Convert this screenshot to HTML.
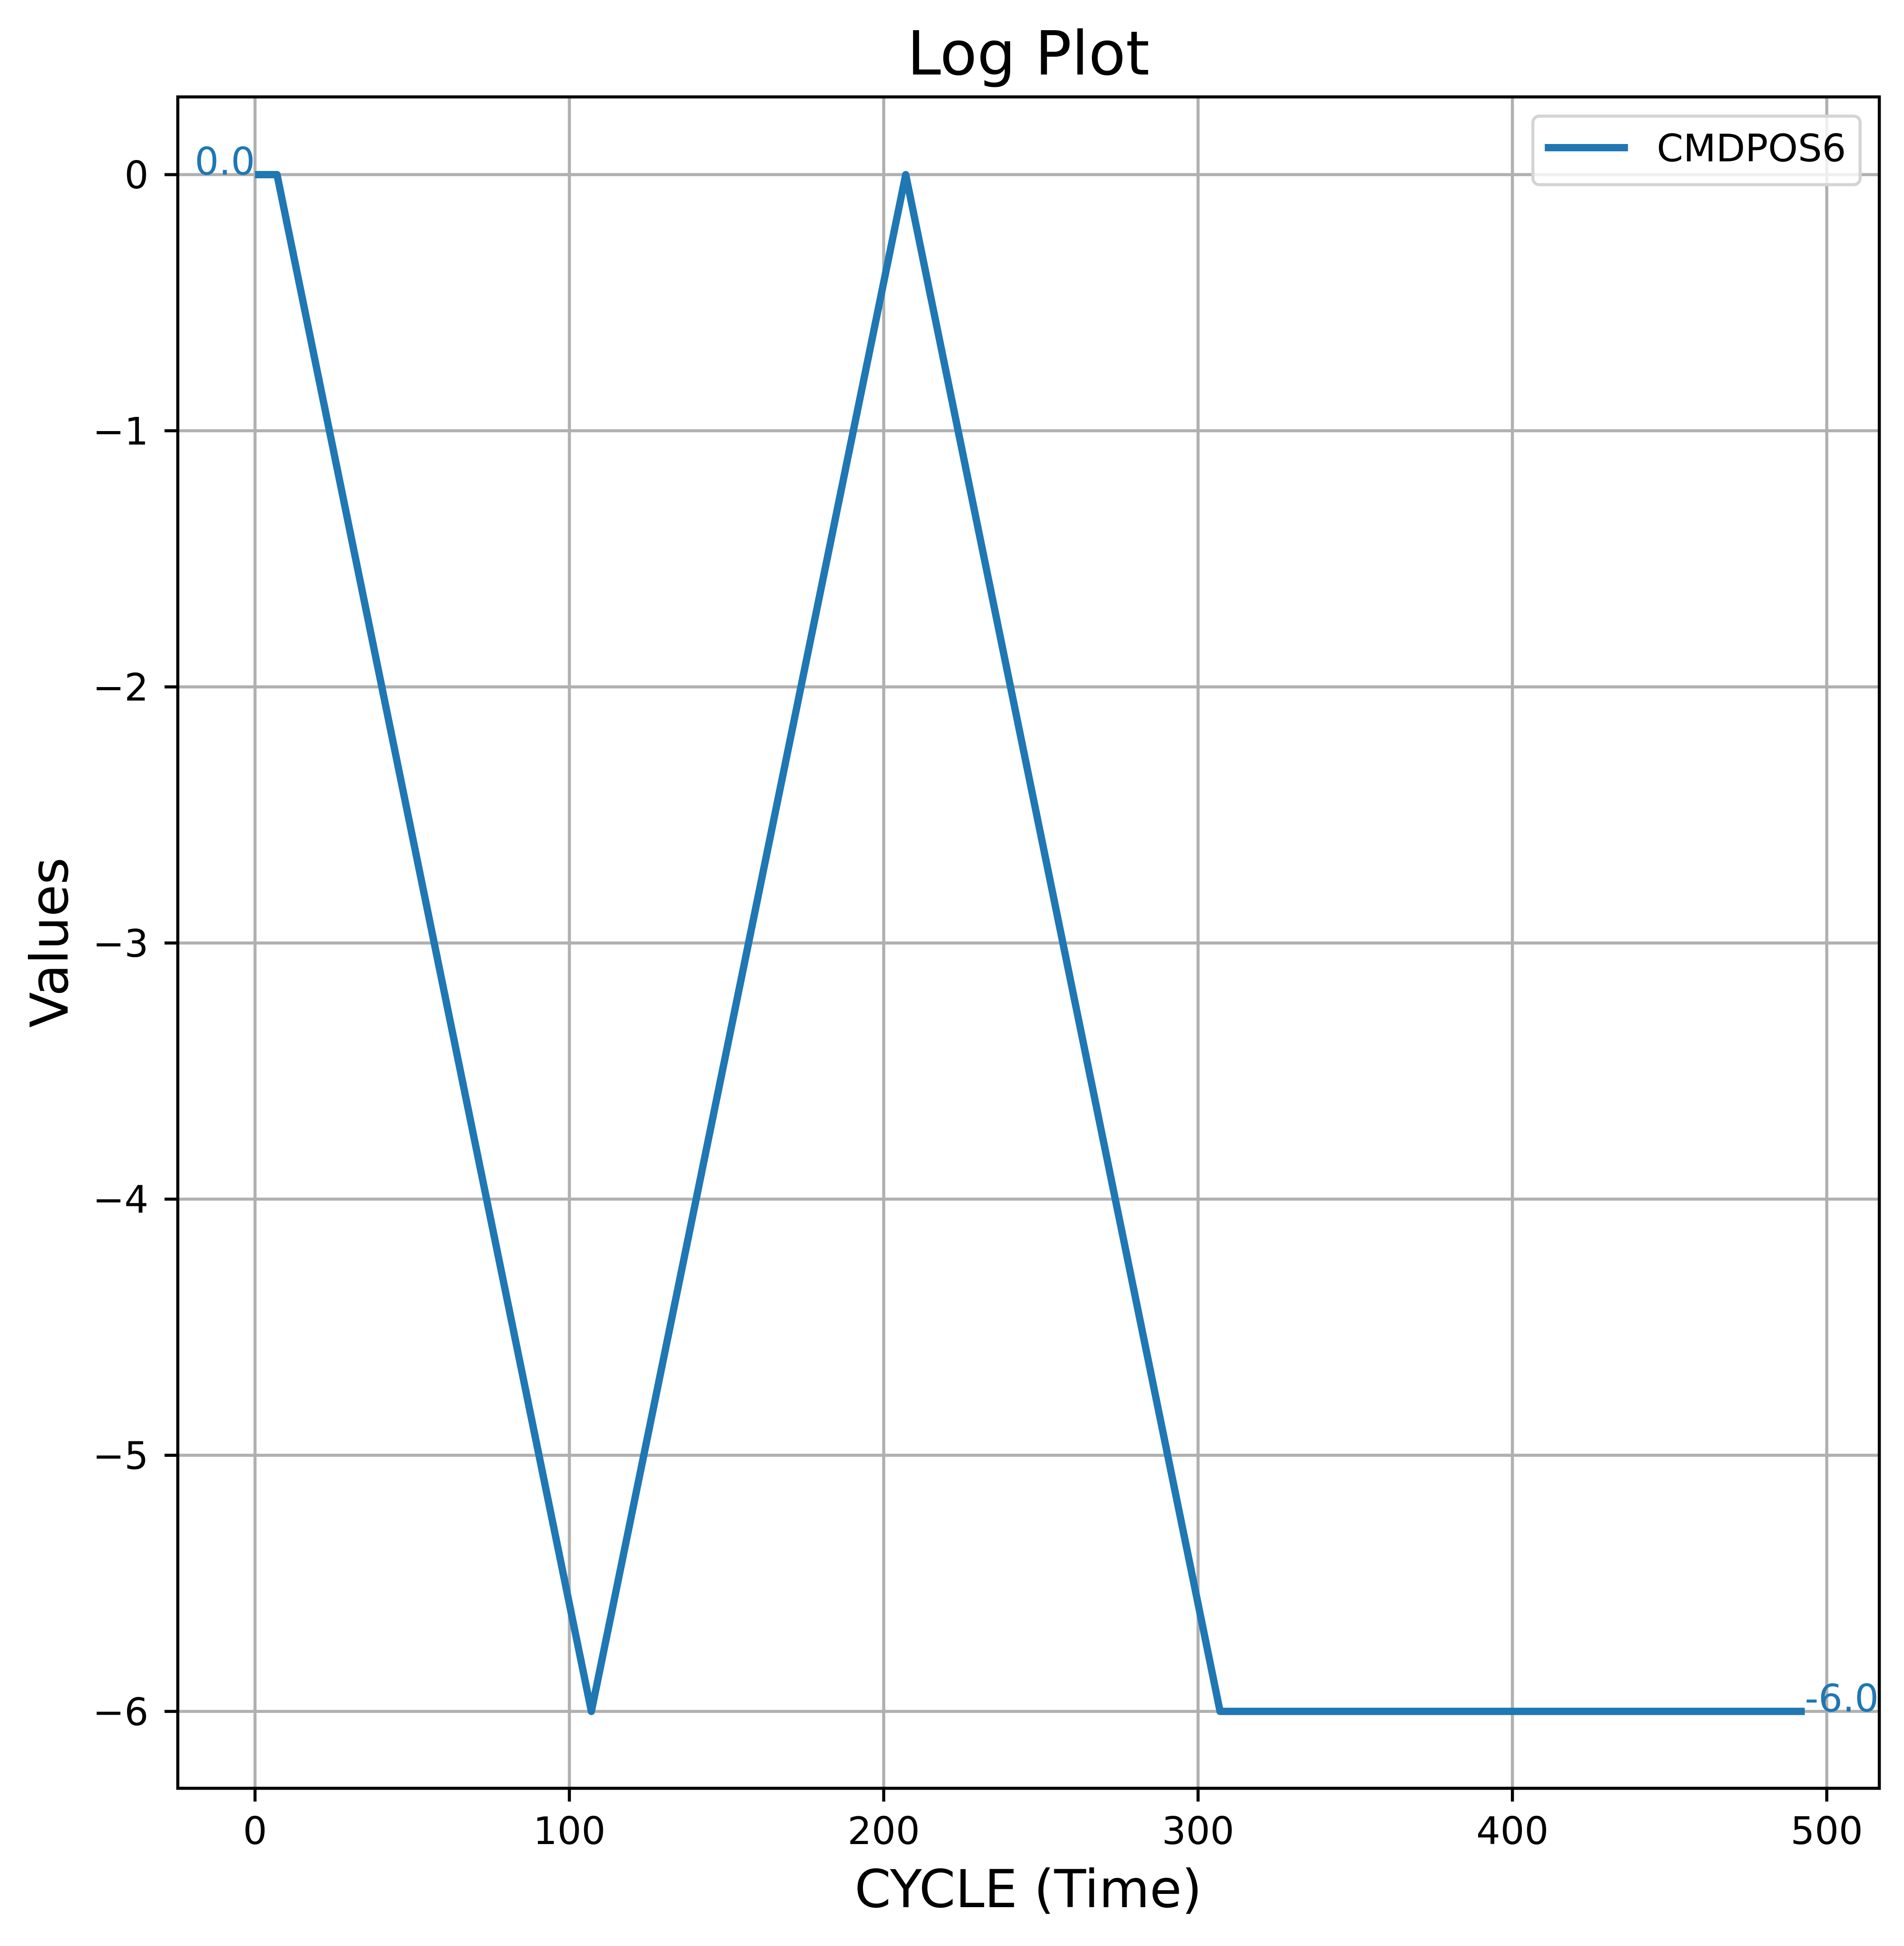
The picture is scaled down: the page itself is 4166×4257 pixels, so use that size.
<!DOCTYPE html>
<html><head><meta charset="utf-8"><style>
html,body{margin:0;padding:0;background:#fff}
svg text{font-family:"DejaVu Sans","Liberation Sans",sans-serif}
</style></head><body>
<svg id="chart" width="4166" height="4252" viewBox="0 0 4166 4252" xmlns="http://www.w3.org/2000/svg">
<rect width="4166" height="4252" fill="#fff"/>
<g id="grid"></g>
<g id="series"></g>
<rect x="389" y="212" width="3723" height="3700" fill="none" stroke="#000" stroke-width="6.7"/>
<g id="ticks"></g>
<text x="2250" y="163" font-size="133" text-anchor="middle">Log Plot</text>
<text x="2250" y="4172" font-size="114" text-anchor="middle">CYCLE (Time)</text>
<text x="148" y="2062" font-size="114" text-anchor="middle" transform="rotate(-90 148 2062)">Values</text>
<g>
<rect x="3354" y="254" width="716" height="150" rx="14" fill="#fff" fill-opacity="0.8" stroke="#d4d4d4" stroke-width="6.7"/>
<line x1="3380" y1="323" x2="3562" y2="323" stroke="#1f77b4" stroke-width="16"/>
<text x="3625" y="353" font-size="83">CMDPOS6</text>
</g>
</svg>
<script>
const xs = [0, 7, 107, 207, 307, 493];
const ys = [0, 0, -6, 0, -6, -6];
const xTicks = [0, 100, 200, 300, 400, 500];
const yTicks = [0, -1, -2, -3, -4, -5, -6];
const annotations = ["0.0", "-6.0"];

const NS = "http://www.w3.org/2000/svg";
const L = 389, R = 4112, T = 212, B = 3912;
const X = v => 558 + v * 6.878;
const Y = v => 382 - v * 560.3;
function mk(tag, attrs, parent, txt) {
  const e = document.createElementNS(NS, tag);
  for (const k in attrs) e.setAttribute(k, attrs[k]);
  if (txt !== undefined) e.textContent = txt;
  parent.appendChild(e);
  return e;
}
const grid = document.getElementById('grid');
const ticks = document.getElementById('ticks');
const series = document.getElementById('series');
xTicks.forEach(t => {
  const g = mk('line', {x1: X(t), x2: X(t), y1: T, y2: B, stroke: '#b0b0b0', 'stroke-width': 6.7}, grid);
  
  
  const tk = mk('line', {x1: X(t), x2: X(t), y1: B, y2: B + 29, stroke: '#000', 'stroke-width': 6.7}, ticks);
  
  
  const lb = mk('text', {x: X(t), y: 4034, 'font-size': 83, 'text-anchor': 'middle'}, ticks, String(t));
  
  
});
yTicks.forEach(t => {
  const g = mk('line', {x1: L, x2: R, y1: Y(t), y2: Y(t), stroke: '#b0b0b0', 'stroke-width': 6.7}, grid);
  
  
  const tk = mk('line', {x1: L - 29, x2: L, y1: Y(t), y2: Y(t), stroke: '#000', 'stroke-width': 6.7}, ticks);
  
  
  const lb = mk('text', {x: 325, y: Y(t) + 30, 'font-size': 83, 'text-anchor': 'end'}, ticks, t < 0 ? '\u2212' + Math.abs(t) : String(t));
  
  
});
const pts = xs.map((x, i) => X(x) + ',' + Y(ys[i])).join(' ');
const line = mk('polyline', {points: pts, fill: 'none', stroke: '#1f77b4', 'stroke-width': 16, 'stroke-linejoin': 'round'}, series);


const a1 = mk('text', {x: X(xs[0]), y: Y(ys[0]), 'font-size': 83, fill: '#1f77b4', 'text-anchor': 'end'}, series, annotations[0]);


const n = xs.length - 1;
const a2 = mk('text', {x: X(xs[n]), y: Y(ys[n]), 'font-size': 83, fill: '#1f77b4', 'text-anchor': 'start'}, series, annotations[1]);


</script>
</body></html>
